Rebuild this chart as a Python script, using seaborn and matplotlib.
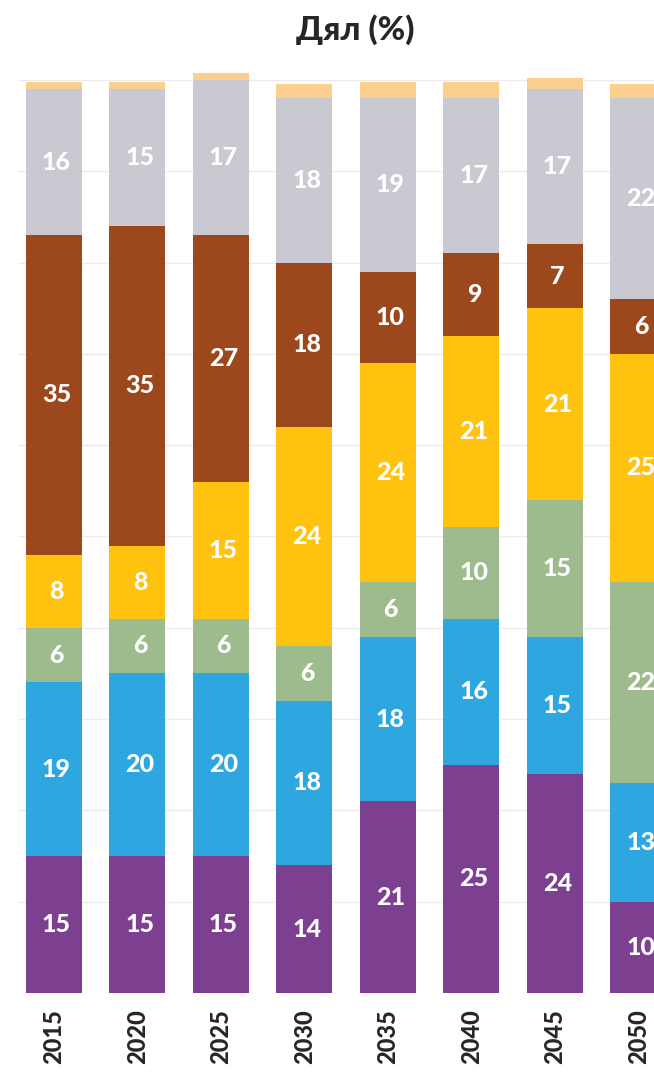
import pandas as pd
import matplotlib.pyplot as plt
import seaborn as sns

# Values per year, bottom layer first
years = ['2015', '2020', '2025', '2030', '2035', '2040', '2045', '2050']
purple = [15, 15, 15, 14, 21, 25, 24, 10]
blue = [19, 20, 20, 18, 18, 16, 15, 13]
green = [6, 6, 6, 6, 6, 10, 15, 22]
yellow = [8, 8, 15, 24, 24, 21, 21, 25]
brown = [35, 35, 27, 18, 10, 9, 7, 6]
gray = [16, 15, 17, 18, 19, 17, 17, 22]
orange = [0.8, 0.8, 0.8, 1.6, 1.8, 1.8, 1.2, 1.5]

layers = ['purple', 'blue', 'green', 'yellow', 'brown', 'gray', 'orange']
colors = {
    'purple': '#7d3f90',
    'blue': '#2ea7e0',
    'green': '#9dbb8c',
    'yellow': '#ffc20e',
    'brown': '#9c481c',
    'gray': '#c9c9d2',
    'orange': '#fbcf8e',
}

df = pd.DataFrame({'year': years, 'purple': purple, 'blue': blue, 'green': green,
                   'yellow': yellow, 'brown': brown, 'gray': gray, 'orange': orange})
cum = df[layers].cumsum(axis=1)

sns.set_style('white')
plt.rcParams['font.family'] = ['Lato', 'DejaVu Sans']

fig = plt.figure(figsize=(6.54, 10.74), dpi=100)
ymax = 103
ax = fig.add_axes([18 / 654, 0.0755, 1.2, (993 - 80) / 1074 * ymax / 100])

# draw cumulative bars from the top layer down so each one covers the one above
for layer in reversed(layers):
    sns.barplot(x=df['year'], y=cum[layer], color=colors[layer], saturation=1,
                width=0.67, linewidth=0, edgecolor='none', ax=ax, zorder=2)

# value labels
for layer in layers[:-1]:
    for i, yr in enumerate(years):
        v = df.loc[i, layer]
        mid = cum.loc[i, layer] - v / 2
        ax.text(i + 0.03, mid, f'{v:.0f}', ha='center', va='center', color='white',
                fontsize=18, fontweight='black', zorder=3)

ax.set_xlim(-0.43, -0.43 + 1.2 * 654 / 83.5)
ax.set_ylim(0, ymax)
ax.set_yticks(range(0, 101, 10))
ax.yaxis.grid(True, color='#ececec', linewidth=1)
ax.set_axisbelow(True)
ax.set_yticklabels([])
ax.tick_params(axis='y', length=0)
ax.tick_params(axis='x', length=0, pad=12)
for lbl in ax.get_xticklabels():
    lbl.set_rotation(90)
    lbl.set_fontsize(17)
    lbl.set_fontweight('black')
ax.set_xlabel('')
ax.set_ylabel('')
sns.despine(ax=ax, left=True, bottom=True, right=True, top=True)

fig.text(355 / 654, 1 - 30 / 1074, 'Дял (%)', ha='center', va='center',
         fontsize=24, fontweight='black')

fig.savefig('out.png', dpi=100)
